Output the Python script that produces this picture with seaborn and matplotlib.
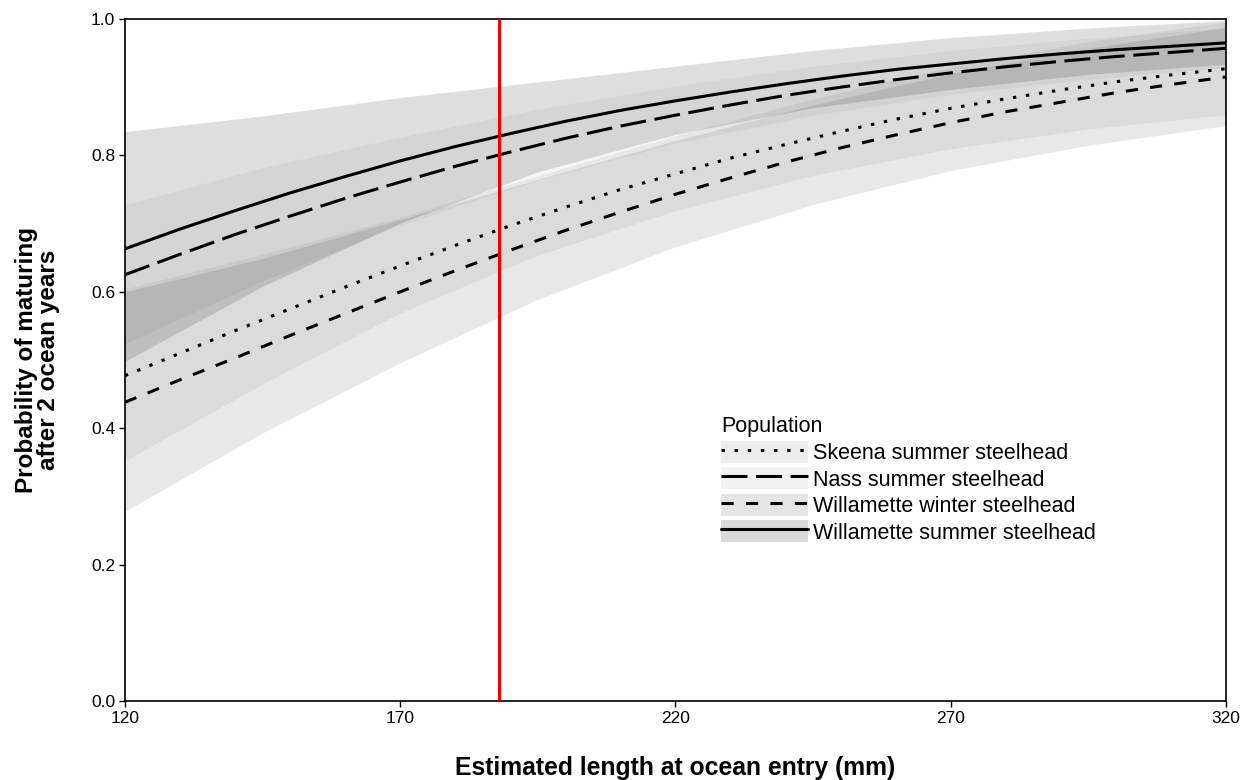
import numpy as np
import pandas as pd
import matplotlib
matplotlib.use("Agg")
import matplotlib.pyplot as plt
import seaborn as sns
from matplotlib.patches import Patch
from matplotlib.lines import Line2D

# ---------------- data ----------------
populations = ["Skeena summer steelhead", "Nass summer steelhead",
               "Willamette winter steelhead", "Willamette summer steelhead"]

x_line = [120, 130, 140, 150, 160, 170, 180, 190, 200, 210, 220,
          230, 240, 250, 260, 270, 280, 290, 300, 310, 320]
p_skeena = [0.477, 0.510, 0.543, 0.575, 0.607, 0.638, 0.668, 0.697, 0.724, 0.750, 0.773,
            0.796, 0.816, 0.835, 0.853, 0.869, 0.883, 0.896, 0.908, 0.918, 0.927]
p_nass = [0.625, 0.655, 0.684, 0.711, 0.737, 0.761, 0.784, 0.805, 0.825, 0.843, 0.859,
          0.874, 0.888, 0.900, 0.911, 0.921, 0.930, 0.938, 0.945, 0.951, 0.957]
p_winter = [0.438, 0.471, 0.503, 0.536, 0.568, 0.600, 0.631, 0.661, 0.690, 0.717, 0.743,
            0.767, 0.790, 0.811, 0.830, 0.848, 0.864, 0.878, 0.892, 0.904, 0.915]
p_summer = [0.663, 0.692, 0.719, 0.745, 0.769, 0.792, 0.813, 0.832, 0.850, 0.866, 0.880,
            0.893, 0.905, 0.916, 0.926, 0.934, 0.942, 0.949, 0.955, 0.960, 0.965]

x_band = [120, 145, 170, 195, 220, 245, 270, 295, 320]
lo_skeena = [0.351, 0.464, 0.568, 0.653, 0.718, 0.770, 0.809, 0.838, 0.859]
hi_skeena = [0.603, 0.654, 0.708, 0.769, 0.828, 0.882, 0.929, 0.966, 0.995]
lo_nass = [0.523, 0.615, 0.697, 0.763, 0.817, 0.858, 0.889, 0.911, 0.928]
hi_nass = [0.727, 0.781, 0.826, 0.867, 0.901, 0.930, 0.953, 0.971, 0.986]
lo_winter = [0.277, 0.392, 0.495, 0.588, 0.665, 0.727, 0.777, 0.814, 0.843]
hi_winter = [0.599, 0.648, 0.705, 0.764, 0.821, 0.873, 0.919, 0.956, 0.987]
lo_summer = [0.497, 0.607, 0.700, 0.775, 0.830, 0.869, 0.896, 0.918, 0.933]
hi_summer = [0.834, 0.857, 0.884, 0.907, 0.930, 0.953, 0.972, 0.986, 0.997]

ref_length = 188

x_ticks = [120, 170, 220, 270, 320]
y_ticks = [0.0, 0.2, 0.4, 0.6, 0.8, 1.0]

# ---------------- styling ----------------
sns.set_style("white")
plt.rcParams["font.family"] = ["Liberation Sans", "DejaVu Sans"]
plt.rcParams["text.color"] = "black"
plt.rcParams["axes.labelcolor"] = "black"

band_alpha = {"Skeena summer steelhead": 0.055,
              "Nass summer steelhead": 0.04,
              "Willamette winter steelhead": 0.09,
              "Willamette summer steelhead": 0.13}
key_alpha = {"Skeena summer steelhead": 0.075,
             "Nass summer steelhead": 0.05,
             "Willamette winter steelhead": 0.10,
             "Willamette summer steelhead": 0.15}
dash_map = {"Skeena summer steelhead": (1.1, 3.2),
            "Nass summer steelhead": (8.5, 2.8),
            "Willamette winter steelhead": (4, 4),
            "Willamette summer steelhead": ""}
LW = 2.2

line_vals = {"Skeena summer steelhead": p_skeena,
             "Nass summer steelhead": p_nass,
             "Willamette winter steelhead": p_winter,
             "Willamette summer steelhead": p_summer}
band_vals = {"Skeena summer steelhead": (lo_skeena, hi_skeena),
             "Nass summer steelhead": (lo_nass, hi_nass),
             "Willamette winter steelhead": (lo_winter, hi_winter),
             "Willamette summer steelhead": (lo_summer, hi_summer)}

df = pd.concat([pd.DataFrame({"x": x_line, "p": line_vals[k], "Population": k})
                for k in populations], ignore_index=True)

fig = plt.figure(figsize=(12.46, 7.8), dpi=100)
ax = fig.add_axes([125 / 1246, 1 - 701 / 780, 1101 / 1246, 682 / 780])

for k in populations:
    lo, hi = band_vals[k]
    ax.fill_between(x_band, lo, hi, facecolor="black", alpha=band_alpha[k],
                    edgecolor="none", linewidth=0, zorder=1)

sns.lineplot(data=df, x="x", y="p", style="Population", style_order=populations,
             dashes=dash_map, color="black", linewidth=LW, legend=False, ax=ax,
             zorder=3)

ax.axvline(ref_length, color="#ee0000", linewidth=2.2, zorder=4)

ax.set_xlim(120, 320)
ax.set_ylim(0, 1)
ax.set_xticks(x_ticks)
ax.set_xticklabels([str(t) for t in x_ticks])
ax.set_yticks(y_ticks)
ax.set_yticklabels([f"{t:.1f}" for t in y_ticks])
ax.tick_params(axis="both", direction="out", length=4, width=1, labelsize=12.5,
               colors="black", labelcolor="black", bottom=True, left=True, pad=3)

for side in ["left", "bottom", "top", "right"]:
    ax.spines[side].set_visible(True)
    ax.spines[side].set_color("black")
    ax.spines[side].set_linewidth(1.2)

ax.set_xlabel("Estimated length at ocean entry (mm)", fontsize=17.8,
              fontweight="bold", labelpad=22, color="black")
ax.set_ylabel("Probability of maturing\nafter 2 ocean years", fontsize=17.5,
              fontweight="bold", labelpad=22, linespacing=0.95, color="black")

handles = []
for k in populations:
    patch = Patch(facecolor="black", alpha=key_alpha[k], edgecolor="none")
    if dash_map[k] == "":
        ln = Line2D([], [], color="black", linewidth=LW)
    else:
        ln = Line2D([], [], color="black", linewidth=LW, dashes=dash_map[k])
    handles.append((patch, ln))

leg = ax.legend(handles, populations, title="Population", loc="upper left",
                bbox_to_anchor=(0.532, 0.433), frameon=False, fontsize=15.5,
                title_fontsize=15.5, handlelength=4.0, handleheight=1.2,
                labelspacing=0.15, handletextpad=0.25, borderpad=0,
                alignment="left")

fig.savefig("out.png", dpi=100)
